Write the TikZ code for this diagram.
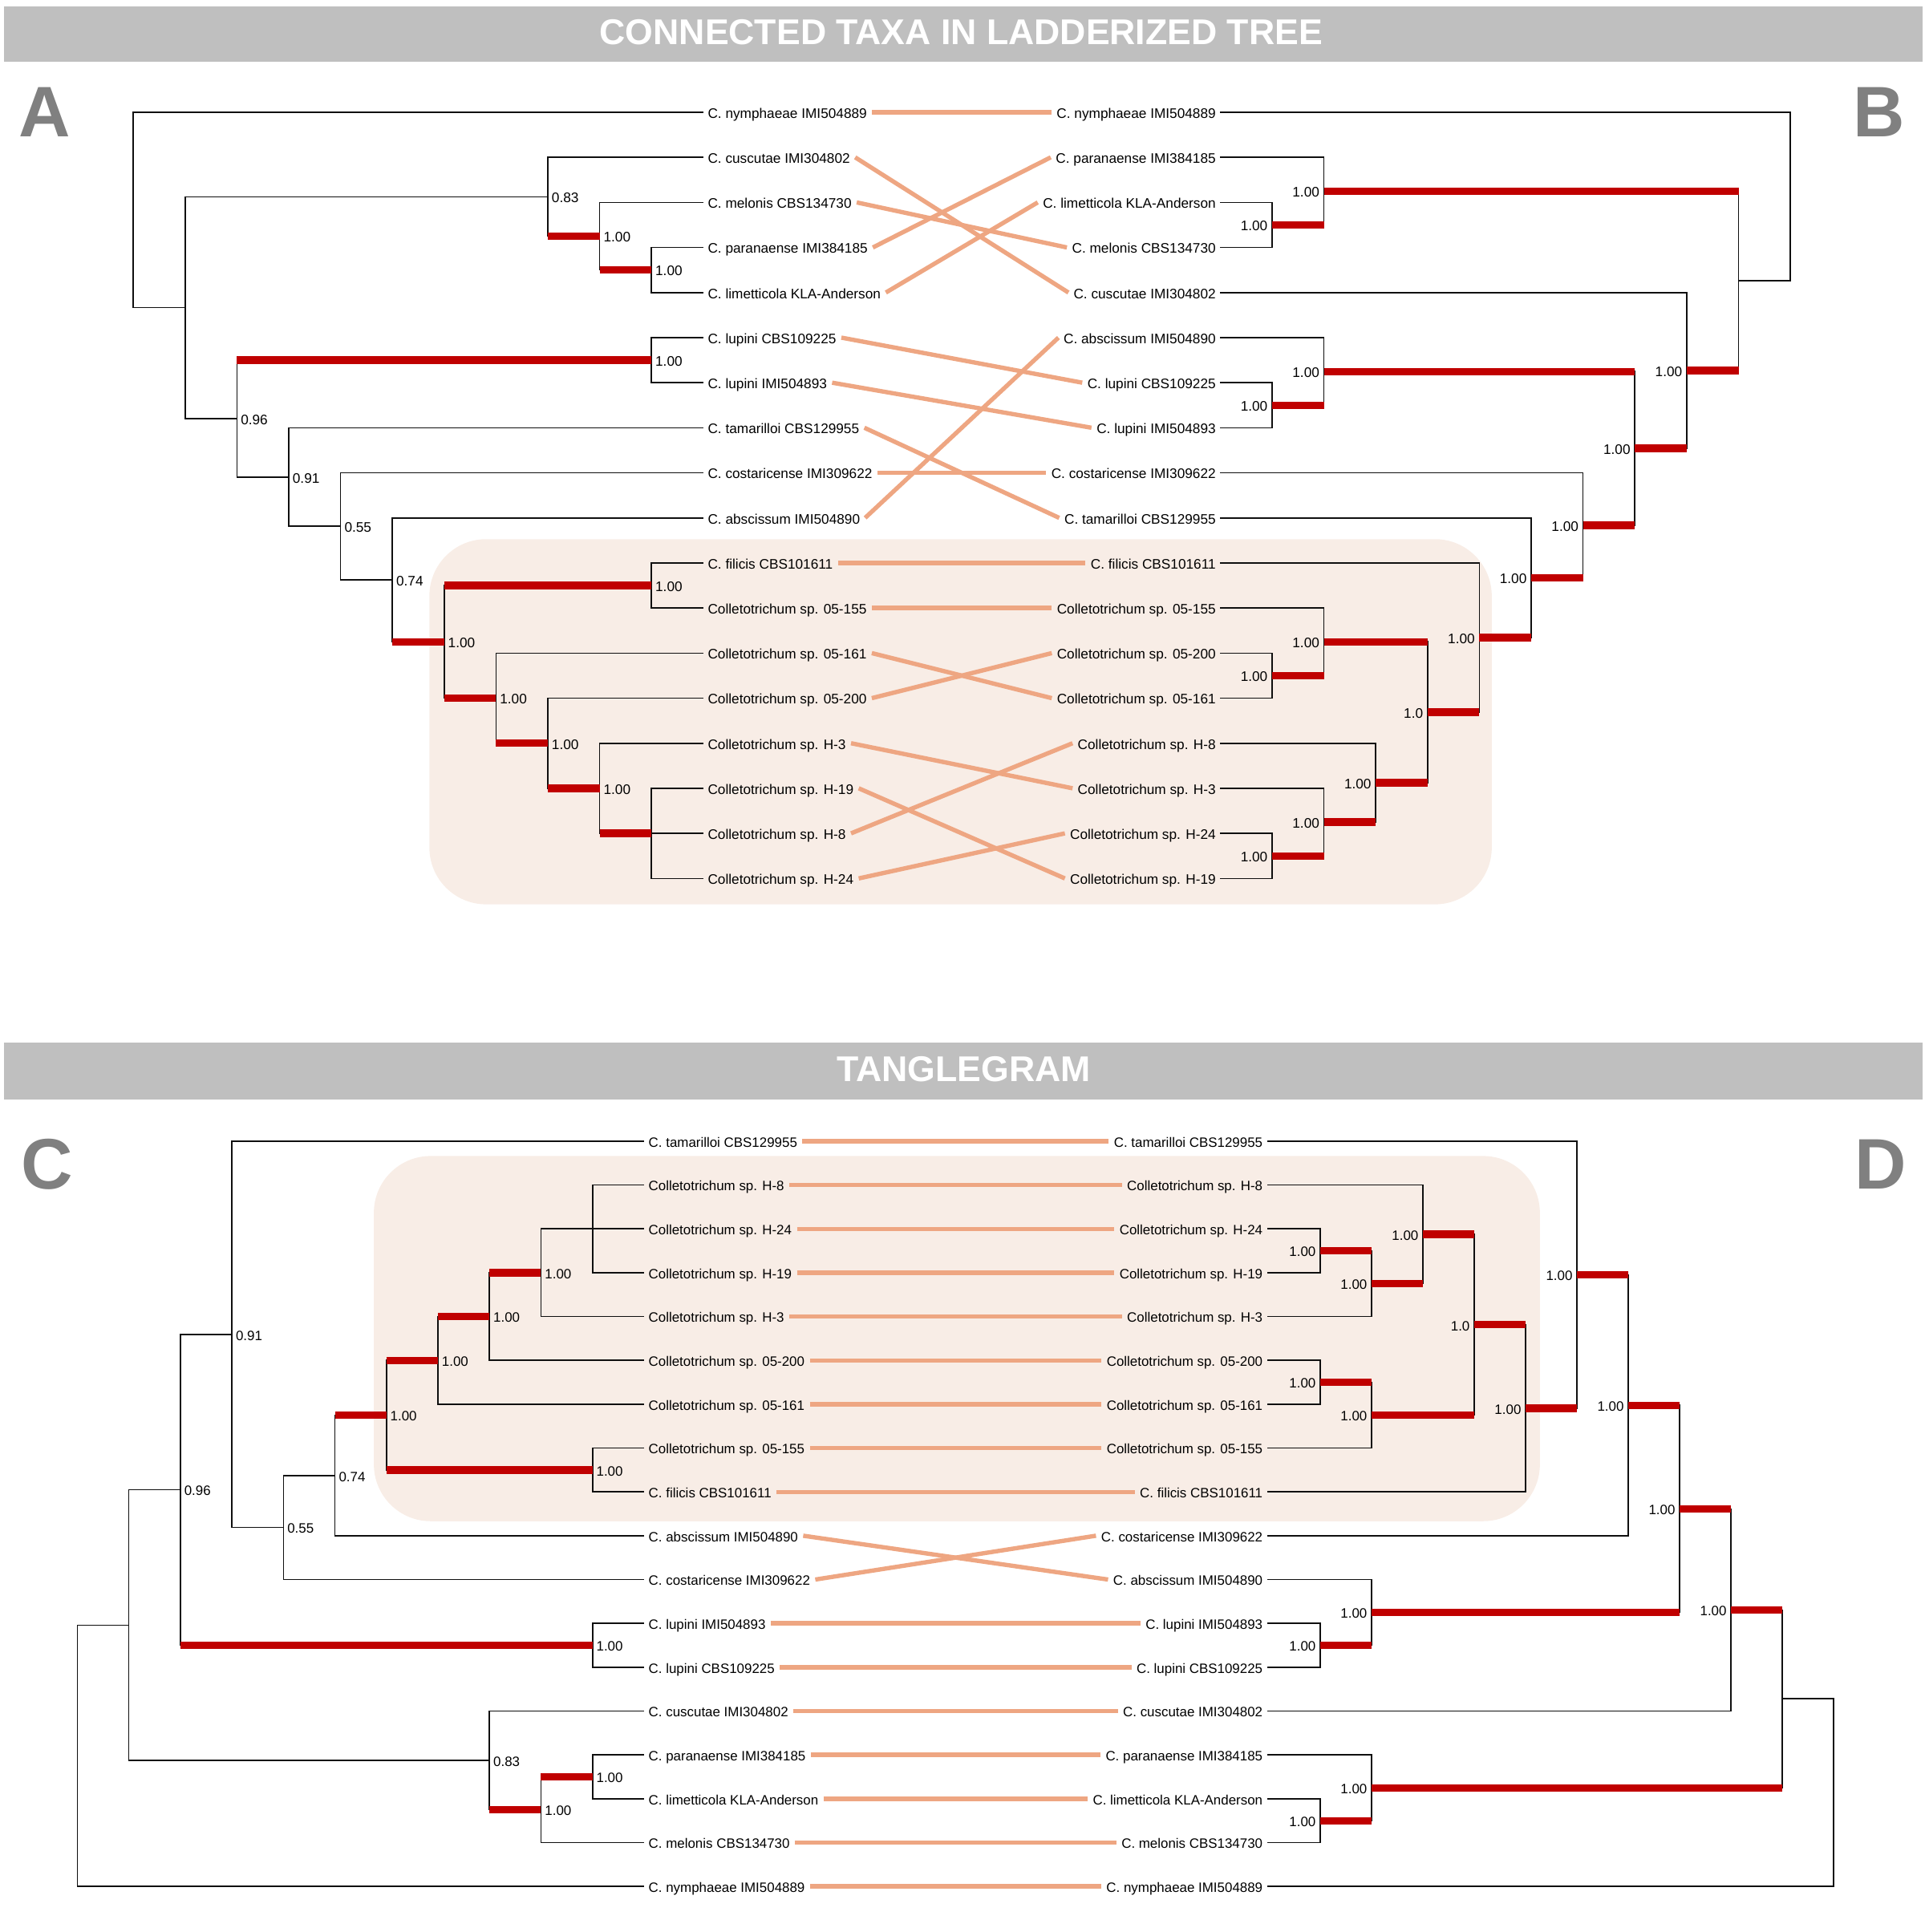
\documentclass[tikz,border=0pt]{standalone}
\usepackage{fontspec}
\setmainfont{Liberation Sans}
\definecolor{treered}{RGB}{192,0,0}
\definecolor{conn}{RGB}{238,166,130}
\definecolor{shadebox}{RGB}{248,237,230}
\definecolor{bandgray}{RGB}{191,191,191}
\definecolor{lettergray}{RGB}{128,128,128}
\definecolor{branch}{RGB}{15,15,15}
\newcommand\topfont{\fontsize{11.2}{13}\selectfont}
\newcommand\botfont{\fontsize{11.0}{13}\selectfont}
\begin{document}
\begin{tikzpicture}[x=1pt,y=-1pt,
  br/.style={draw=branch, line width=1.05pt, line cap=rect},
  rb/.style={draw=treered, line width=6pt},
  cn/.style={draw=conn, line width=3.5pt},
  lab/.style={inner xsep=4pt, inner ysep=0pt, text height=9.5pt, text depth=0pt},
  lfT/.style={lab, anchor=west, font=\topfont},
  rtT/.style={lab, anchor=east, font=\topfont},
  lfB/.style={lab, anchor=west, font=\botfont},
  rtB/.style={lab, anchor=east, font=\botfont},
  supLT/.style={inner sep=0pt, text height=9.5pt, text depth=0pt, anchor=west, font=\topfont},
  supRT/.style={inner sep=0pt, text height=9.5pt, text depth=0pt, anchor=east, font=\topfont},
  supLB/.style={inner sep=0pt, text height=9.5pt, text depth=0pt, anchor=west, font=\botfont},
  supRB/.style={inner sep=0pt, text height=9.5pt, text depth=0pt, anchor=east, font=\botfont},
  title/.style={anchor=base, inner sep=0pt, text=white, font=\fontsize{29}{32}\selectfont\bfseries},
  panel/.style={anchor=base west, inner sep=0pt, text=lettergray, font=\fontsize{58}{60}\selectfont\bfseries}
]
\useasboundingbox (0,0) rectangle (1560,1566);

% ---------- bands and shaded boxes ----------
\fill[bandgray] (3,5) rectangle (1558,50);
\fill[bandgray] (3,845) rectangle (1558,891);
\node[title] (t1) at (779,36.4) {CONNECTED TAXA IN LADDERIZED TREE};
\node[title] (t2) at (781,876.8) {TANGLEGRAM};
\node[panel] (pA) at (15,111) {A};
\node[panel] (pB) at (1502,111) {B};
\node[panel] (pC) at (17,963.5) {C};
\node[panel] (pD) at (1503,963.5) {D};
\fill[shadebox, rounded corners=46pt] (348,437) rectangle (1209,733);
\fill[shadebox, rounded corners=46pt] (303,937) rectangle (1248,1233);

% ---------- panel A labels ----------
\node[lfT] (a1) at (569.5,91.00) {C. nymphaeae IMI504889};
\node[lfT] (a2) at (569.5,127.53) {C. cuscutae IMI304802};
\node[lfT] (a3) at (569.5,164.06) {C. melonis CBS134730};
\node[lfT] (a4) at (569.5,200.59) {C. paranaense IMI384185};
\node[lfT] (a5) at (569.5,237.12) {C. limetticola KLA-Anderson};
\node[lfT] (a6) at (569.5,273.65) {C. lupini CBS109225};
\node[lfT] (a7) at (569.5,310.18) {C. lupini IMI504893};
\node[lfT] (a8) at (569.5,346.71) {C. tamarilloi CBS129955};
\node[lfT] (a9) at (569.5,383.24) {C. costaricense IMI309622};
\node[lfT] (a10) at (569.5,419.77) {C. abscissum IMI504890};
\node[lfT] (a11) at (569.5,456.30) {C. filicis CBS101611};
\node[lfT] (a12) at (569.5,492.83) {Colletotrichum sp. 05-155};
\node[lfT] (a13) at (569.5,529.36) {Colletotrichum sp. 05-161};
\node[lfT] (a14) at (569.5,565.89) {Colletotrichum sp. 05-200};
\node[lfT] (a15) at (569.5,602.42) {Colletotrichum sp. H-3};
\node[lfT] (a16) at (569.5,638.95) {Colletotrichum sp. H-19};
\node[lfT] (a17) at (569.5,675.48) {Colletotrichum sp. H-8};
\node[lfT] (a18) at (569.5,712.01) {Colletotrichum sp. H-24};

% ---------- panel B labels ----------
\node[rtT] (b1) at (989.5,91.00) {C. nymphaeae IMI504889};
\node[rtT] (b2) at (989.5,127.53) {C. paranaense IMI384185};
\node[rtT] (b3) at (989.5,164.06) {C. limetticola KLA-Anderson};
\node[rtT] (b4) at (989.5,200.59) {C. melonis CBS134730};
\node[rtT] (b5) at (989.5,237.12) {C. cuscutae IMI304802};
\node[rtT] (b6) at (989.5,273.65) {C. abscissum IMI504890};
\node[rtT] (b7) at (989.5,310.18) {C. lupini CBS109225};
\node[rtT] (b8) at (989.5,346.71) {C. lupini IMI504893};
\node[rtT] (b9) at (989.5,383.24) {C. costaricense IMI309622};
\node[rtT] (b10) at (989.5,419.77) {C. tamarilloi CBS129955};
\node[rtT] (b11) at (989.5,456.30) {C. filicis CBS101611};
\node[rtT] (b12) at (989.5,492.83) {Colletotrichum sp. 05-155};
\node[rtT] (b13) at (989.5,529.36) {Colletotrichum sp. 05-200};
\node[rtT] (b14) at (989.5,565.89) {Colletotrichum sp. 05-161};
\node[rtT] (b15) at (989.5,602.42) {Colletotrichum sp. H-8};
\node[rtT] (b16) at (989.5,638.95) {Colletotrichum sp. H-3};
\node[rtT] (b17) at (989.5,675.48) {Colletotrichum sp. H-24};
\node[rtT] (b18) at (989.5,712.01) {Colletotrichum sp. H-19};

% ---------- panel C labels ----------
\node[lfB] (c1) at (521.5,925.00) {C. tamarilloi CBS129955};
\node[lfB] (c2) at (521.5,960.53) {Colletotrichum sp. H-8};
\node[lfB] (c3) at (521.5,996.06) {Colletotrichum sp. H-24};
\node[lfB] (c4) at (521.5,1031.59) {Colletotrichum sp. H-19};
\node[lfB] (c5) at (521.5,1067.12) {Colletotrichum sp. H-3};
\node[lfB] (c6) at (521.5,1102.65) {Colletotrichum sp. 05-200};
\node[lfB] (c7) at (521.5,1138.18) {Colletotrichum sp. 05-161};
\node[lfB] (c8) at (521.5,1173.71) {Colletotrichum sp. 05-155};
\node[lfB] (c9) at (521.5,1209.24) {C. filicis CBS101611};
\node[lfB] (c10) at (521.5,1244.77) {C. abscissum IMI504890};
\node[lfB] (c11) at (521.5,1280.30) {C. costaricense IMI309622};
\node[lfB] (c12) at (521.5,1315.83) {C. lupini IMI504893};
\node[lfB] (c13) at (521.5,1351.36) {C. lupini CBS109225};
\node[lfB] (c14) at (521.5,1386.89) {C. cuscutae IMI304802};
\node[lfB] (c15) at (521.5,1422.42) {C. paranaense IMI384185};
\node[lfB] (c16) at (521.5,1457.95) {C. limetticola KLA-Anderson};
\node[lfB] (c17) at (521.5,1493.48) {C. melonis CBS134730};
\node[lfB] (c18) at (521.5,1529.01) {C. nymphaeae IMI504889};

% ---------- panel D labels ----------
\node[rtB] (d1) at (1027.5,925.00) {C. tamarilloi CBS129955};
\node[rtB] (d2) at (1027.5,960.53) {Colletotrichum sp. H-8};
\node[rtB] (d3) at (1027.5,996.06) {Colletotrichum sp. H-24};
\node[rtB] (d4) at (1027.5,1031.59) {Colletotrichum sp. H-19};
\node[rtB] (d5) at (1027.5,1067.12) {Colletotrichum sp. H-3};
\node[rtB] (d6) at (1027.5,1102.65) {Colletotrichum sp. 05-200};
\node[rtB] (d7) at (1027.5,1138.18) {Colletotrichum sp. 05-161};
\node[rtB] (d8) at (1027.5,1173.71) {Colletotrichum sp. 05-155};
\node[rtB] (d9) at (1027.5,1209.24) {C. filicis CBS101611};
\node[rtB] (d10) at (1027.5,1244.77) {C. costaricense IMI309622};
\node[rtB] (d11) at (1027.5,1280.30) {C. abscissum IMI504890};
\node[rtB] (d12) at (1027.5,1315.83) {C. lupini IMI504893};
\node[rtB] (d13) at (1027.5,1351.36) {C. lupini CBS109225};
\node[rtB] (d14) at (1027.5,1386.89) {C. cuscutae IMI304802};
\node[rtB] (d15) at (1027.5,1422.42) {C. paranaense IMI384185};
\node[rtB] (d16) at (1027.5,1457.95) {C. limetticola KLA-Anderson};
\node[rtB] (d17) at (1027.5,1493.48) {C. melonis CBS134730};
\node[rtB] (d18) at (1027.5,1529.01) {C. nymphaeae IMI504889};

% ---------- connectors ----------
\draw[cn] (a1.east) -- (b1.west);
\draw[cn] (a2.east) -- (b5.west);
\draw[cn] (a3.east) -- (b4.west);
\draw[cn] (a4.east) -- (b2.west);
\draw[cn] (a5.east) -- (b3.west);
\draw[cn] (a6.east) -- (b7.west);
\draw[cn] (a7.east) -- (b8.west);
\draw[cn] (a8.east) -- (b10.west);
\draw[cn] (a9.east) -- (b9.west);
\draw[cn] (a10.east) -- (b6.west);
\draw[cn] (a11.east) -- (b11.west);
\draw[cn] (a12.east) -- (b12.west);
\draw[cn] (a13.east) -- (b14.west);
\draw[cn] (a14.east) -- (b13.west);
\draw[cn] (a15.east) -- (b16.west);
\draw[cn] (a16.east) -- (b18.west);
\draw[cn] (a17.east) -- (b15.west);
\draw[cn] (a18.east) -- (b17.west);
\foreach \i in {1,...,9,12,13,14,15,16,17,18} {\draw[cn] (c\i.east) -- (d\i.west);}
\draw[cn] (c10.east) -- (d11.west);
\draw[cn] (c11.east) -- (d10.west);

% ---------- tree A ----------
\draw[br] (108,91) -- (a1.west);
\draw[br] (444,127.53) -- (a2.west);
\draw[br] (486,164.06) -- (a3.west);
\draw[br] (528,200.59) -- (a4.west);
\draw[br] (528,237.12) -- (a5.west);
\draw[br] (528,273.65) -- (a6.west);
\draw[br] (528,310.18) -- (a7.west);
\draw[br] (234,346.71) -- (a8.west);
\draw[br] (276,383.24) -- (a9.west);
\draw[br] (318,419.77) -- (a10.west);
\draw[br] (528,456.30) -- (a11.west);
\draw[br] (528,492.83) -- (a12.west);
\draw[br] (402,529.36) -- (a13.west);
\draw[br] (444,565.89) -- (a14.west);
\draw[br] (486,602.42) -- (a15.west);
\draw[br] (528,638.95) -- (a16.west);
\draw[br] (528,675.48) -- (a17.west);
\draw[br] (528,712.01) -- (a18.west);
\draw[br] (108,91) -- (108,249.4);
\draw[br] (150,159.5) -- (150,339.3);
\draw[br] (444,127.53) -- (444,191.46);
\draw[br] (486,164.06) -- (486,218.86);
\draw[br] (528,200.59) -- (528,237.12);
\draw[br] (192,291.92) -- (192,386.67);
\draw[br] (528,273.65) -- (528,310.18);
\draw[br] (234,346.71) -- (234,426.62);
\draw[br] (276,383.24) -- (276,470.0);
\draw[br] (318,419.77) -- (318,520.23);
\draw[br] (360,474.57) -- (360,565.89);
\draw[br] (528,456.30) -- (528,492.83);
\draw[br] (402,529.36) -- (402,602.42);
\draw[br] (444,565.89) -- (444,638.95);
\draw[br] (486,602.42) -- (486,675.48);
\draw[br] (528,638.95) -- (528,712.01);
\draw[br] (108,249.4) -- (150,249.4);
\draw[br] (150,159.5) -- (444,159.5);
\draw[br] (150,339.3) -- (192,339.3);
\draw[br] (192,386.67) -- (234,386.67);
\draw[br] (234,426.62) -- (276,426.62);
\draw[br] (276,470.0) -- (318,470.0);
\draw[rb] (444,191.46) -- (486,191.46);
\draw[rb] (486,218.86) -- (528,218.86);
\draw[rb] (192,291.92) -- (528,291.92);
\draw[rb] (318,520.23) -- (360,520.23);
\draw[rb] (360,474.57) -- (528,474.57);
\draw[rb] (360,565.89) -- (402,565.89);
\draw[rb] (402,602.42) -- (444,602.42);
\draw[rb] (444,638.95) -- (486,638.95);
\draw[rb] (486,675.48) -- (528,675.48);
\node[supLT] (sa1) at (447,159.5) {0.83};
\node[supLT] (sa2) at (489,191.46) {1.00};
\node[supLT] (sa3) at (531,218.86) {1.00};
\node[supLT] (sa4) at (531,291.92) {1.00};
\node[supLT] (sa5) at (195,339.3) {0.96};
\node[supLT] (sa6) at (237,386.67) {0.91};
\node[supLT] (sa7) at (279,426.62) {0.55};
\node[supLT] (sa8) at (321,470.0) {0.74};
\node[supLT] (sa9) at (363,520.23) {1.00};
\node[supLT] (sa10) at (531,474.57) {1.00};
\node[supLT] (sa11) at (405,565.89) {1.00};
\node[supLT] (sa12) at (447,602.42) {1.00};
\node[supLT] (sa13) at (489,638.95) {1.00};

% ---------- tree B ----------
\draw[br] (b1.east) -- (1451,91);
\draw[br] (b2.east) -- (1073,127.53);
\draw[br] (b3.east) -- (1031,164.06);
\draw[br] (b4.east) -- (1031,200.59);
\draw[br] (b5.east) -- (1367,237.12);
\draw[br] (b6.east) -- (1073,273.65);
\draw[br] (b7.east) -- (1031,310.18);
\draw[br] (b8.east) -- (1031,346.71);
\draw[br] (b9.east) -- (1283,383.24);
\draw[br] (b10.east) -- (1241,419.77);
\draw[br] (b11.east) -- (1199,456.30);
\draw[br] (b12.east) -- (1073,492.83);
\draw[br] (b13.east) -- (1031,529.36);
\draw[br] (b14.east) -- (1031,565.89);
\draw[br] (b15.east) -- (1115,602.42);
\draw[br] (b16.east) -- (1073,638.95);
\draw[br] (b17.east) -- (1031,675.48);
\draw[br] (b18.east) -- (1031,712.01);
\draw[br] (1451,91) -- (1451,227.6);
\draw[br] (1409,154.93) -- (1409,300.27);
\draw[br] (1073,127.53) -- (1073,182.33);
\draw[br] (1031,164.06) -- (1031,200.59);
\draw[br] (1367,237.12) -- (1367,363.41);
\draw[br] (1325,301.05) -- (1325,425.77);
\draw[br] (1073,273.65) -- (1073,328.45);
\draw[br] (1031,310.18) -- (1031,346.71);
\draw[br] (1283,383.24) -- (1283,468.29);
\draw[br] (1241,419.77) -- (1241,516.81);
\draw[br] (1199,456.30) -- (1199,577.31);
\draw[br] (1157,520.23) -- (1157,634.39);
\draw[br] (1073,492.83) -- (1073,547.63);
\draw[br] (1031,529.36) -- (1031,565.89);
\draw[br] (1115,602.42) -- (1115,666.35);
\draw[br] (1073,638.95) -- (1073,693.75);
\draw[br] (1031,675.48) -- (1031,712.01);
\draw[br] (1409,227.6) -- (1451,227.6);
\draw[rb] (1073,154.93) -- (1409,154.93);
\draw[rb] (1031,182.33) -- (1073,182.33);
\draw[rb] (1367,300.27) -- (1409,300.27);
\draw[rb] (1325,363.41) -- (1367,363.41);
\draw[rb] (1073,301.05) -- (1325,301.05);
\draw[rb] (1031,328.45) -- (1073,328.45);
\draw[rb] (1283,425.77) -- (1325,425.77);
\draw[rb] (1241,468.29) -- (1283,468.29);
\draw[rb] (1199,516.81) -- (1241,516.81);
\draw[rb] (1157,577.31) -- (1199,577.31);
\draw[rb] (1073,520.23) -- (1157,520.23);
\draw[rb] (1031,547.63) -- (1073,547.63);
\draw[rb] (1115,634.39) -- (1157,634.39);
\draw[rb] (1073,666.35) -- (1115,666.35);
\draw[rb] (1031,693.75) -- (1073,693.75);
\node[supRT] (sb1) at (1069.5,154.93) {1.00};
\node[supRT] (sb2) at (1027.5,182.33) {1.00};
\node[supRT] (sb3) at (1363.5,300.27) {1.00};
\node[supRT] (sb4) at (1321.5,363.41) {1.00};
\node[supRT] (sb5) at (1069.5,301.05) {1.00};
\node[supRT] (sb6) at (1027.5,328.45) {1.00};
\node[supRT] (sb7) at (1279.5,425.77) {1.00};
\node[supRT] (sb8) at (1237.5,468.29) {1.00};
\node[supRT] (sb9) at (1195.5,516.81) {1.00};
\node[supRT] (sb10) at (1153.5,577.31) {1.0};
\node[supRT] (sb11) at (1069.5,520.23) {1.00};
\node[supRT] (sb12) at (1027.5,547.63) {1.00};
\node[supRT] (sb13) at (1111.5,634.39) {1.00};
\node[supRT] (sb14) at (1069.5,666.35) {1.00};
\node[supRT] (sb15) at (1027.5,693.75) {1.00};

% ---------- tree C ----------
\draw[br] (187.95,925.00) -- (c1.west);
\draw[br] (480.2,960.53) -- (c2.west);
\draw[br] (438.45,996.06) -- (c3.west);
\draw[br] (480.2,1031.59) -- (c4.west);
\draw[br] (438.45,1067.12) -- (c5.west);
\draw[br] (396.7,1102.65) -- (c6.west);
\draw[br] (354.95,1138.18) -- (c7.west);
\draw[br] (480.2,1173.71) -- (c8.west);
\draw[br] (480.2,1209.24) -- (c9.west);
\draw[br] (271.45,1244.77) -- (c10.west);
\draw[br] (229.7,1280.30) -- (c11.west);
\draw[br] (480.2,1315.83) -- (c12.west);
\draw[br] (480.2,1351.36) -- (c13.west);
\draw[br] (396.7,1386.89) -- (c14.west);
\draw[br] (480.2,1422.42) -- (c15.west);
\draw[br] (480.2,1457.95) -- (c16.west);
\draw[br] (438.45,1493.48) -- (c17.west);
\draw[br] (62.7,1529.01) -- (c18.west);
\draw[br] (480.2,960.53) -- (480.2,1031.59);
\draw[br] (438.45,996.06) -- (438.45,1067.12);
\draw[br] (396.7,1031.59) -- (396.7,1102.65);
\draw[br] (354.95,1067.12) -- (354.95,1138.18);
\draw[br] (480.2,1173.71) -- (480.2,1209.24);
\draw[br] (313.2,1102.65) -- (313.2,1191.48);
\draw[br] (271.45,1147.07) -- (271.45,1244.77);
\draw[br] (229.7,1195.92) -- (229.7,1280.30);
\draw[br] (187.95,925.00) -- (187.95,1238.11);
\draw[br] (480.2,1315.83) -- (480.2,1351.36);
\draw[br] (146.2,1081.56) -- (146.2,1333.6);
\draw[br] (480.2,1422.42) -- (480.2,1457.95);
\draw[br] (438.45,1440.19) -- (438.45,1493.48);
\draw[br] (396.7,1386.89) -- (396.7,1466.84);
\draw[br] (104.45,1207.58) -- (104.45,1426.87);
\draw[br] (62.7,1317.22) -- (62.7,1529.01);
\draw[br] (62.7,1317.22) -- (104.45,1317.22);
\draw[br] (104.45,1207.58) -- (146.2,1207.58);
\draw[br] (146.2,1081.56) -- (187.95,1081.56);
\draw[br] (187.95,1238.11) -- (229.7,1238.11);
\draw[br] (229.7,1195.92) -- (271.45,1195.92);
\draw[br] (104.45,1426.87) -- (396.7,1426.87);
\draw[rb] (271.45,1147.07) -- (313.2,1147.07);
\draw[rb] (313.2,1102.65) -- (354.95,1102.65);
\draw[rb] (354.95,1067.12) -- (396.7,1067.12);
\draw[rb] (396.7,1031.59) -- (438.45,1031.59);
\draw[rb] (313.2,1191.48) -- (480.2,1191.48);
\draw[rb] (146.2,1333.6) -- (480.2,1333.6);
\draw[rb] (396.7,1466.84) -- (438.45,1466.84);
\draw[rb] (438.45,1440.19) -- (480.2,1440.19);
\node[supLB] (sc1) at (190.95,1081.56) {0.91};
\node[supLB] (sc2) at (149.2,1207.58) {0.96};
\node[supLB] (sc3) at (232.7,1238.11) {0.55};
\node[supLB] (sc4) at (274.45,1195.92) {0.74};
\node[supLB] (sc5) at (316.2,1147.07) {1.00};
\node[supLB] (sc6) at (357.95,1102.65) {1.00};
\node[supLB] (sc7) at (399.7,1067.12) {1.00};
\node[supLB] (sc8) at (441.45,1031.59) {1.00};
\node[supLB] (sc9) at (483.2,1191.48) {1.00};
\node[supLB] (sc10) at (483.2,1333.6) {1.00};
\node[supLB] (sc11) at (399.7,1426.87) {0.83};
\node[supLB] (sc12) at (441.45,1466.84) {1.00};
\node[supLB] (sc13) at (483.2,1440.19) {1.00};

% ---------- tree D ----------
\draw[br] (d1.east) -- (1278.1,925.00);
\draw[br] (d2.east) -- (1153.24,960.53);
\draw[br] (d3.east) -- (1070,996.06);
\draw[br] (d4.east) -- (1070,1031.59);
\draw[br] (d5.east) -- (1111.62,1067.12);
\draw[br] (d6.east) -- (1070,1102.65);
\draw[br] (d7.east) -- (1070,1138.18);
\draw[br] (d8.east) -- (1111.62,1173.71);
\draw[br] (d9.east) -- (1236.48,1209.24);
\draw[br] (d10.east) -- (1319.72,1244.77);
\draw[br] (d11.east) -- (1111.62,1280.30);
\draw[br] (d12.east) -- (1070,1315.83);
\draw[br] (d13.east) -- (1070,1351.36);
\draw[br] (d14.east) -- (1402.96,1386.89);
\draw[br] (d15.east) -- (1111.62,1422.42);
\draw[br] (d16.east) -- (1070,1457.95);
\draw[br] (d17.east) -- (1070,1493.48);
\draw[br] (d18.east) -- (1486.2,1529.01);
\draw[br] (1070,996.06) -- (1070,1031.59);
\draw[br] (1111.62,1013.83) -- (1111.62,1067.12);
\draw[br] (1153.24,960.53) -- (1153.24,1040.47);
\draw[br] (1070,1102.65) -- (1070,1138.18);
\draw[br] (1111.62,1120.42) -- (1111.62,1173.71);
\draw[br] (1194.86,1000.5) -- (1194.86,1147.06);
\draw[br] (1236.48,1073.78) -- (1236.48,1209.24);
\draw[br] (1278.1,925.00) -- (1278.1,1141.51);
\draw[br] (1319.72,1033.26) -- (1319.72,1244.77);
\draw[br] (1070,1315.83) -- (1070,1351.36);
\draw[br] (1111.62,1280.30) -- (1111.62,1333.6);
\draw[br] (1361.34,1139.01) -- (1361.34,1306.95);
\draw[br] (1402.96,1222.98) -- (1402.96,1386.89);
\draw[br] (1070,1457.95) -- (1070,1493.48);
\draw[br] (1111.62,1422.42) -- (1111.62,1475.72);
\draw[br] (1444.58,1304.94) -- (1444.58,1449.07);
\draw[br] (1486.2,1377.0) -- (1486.2,1529.01);
\draw[br] (1444.58,1377.0) -- (1486.2,1377.0);
\draw[rb] (1278.1,1033.26) -- (1319.72,1033.26);
\draw[rb] (1236.48,1141.51) -- (1278.1,1141.51);
\draw[rb] (1194.86,1073.78) -- (1236.48,1073.78);
\draw[rb] (1153.24,1000.5) -- (1194.86,1000.5);
\draw[rb] (1111.62,1040.47) -- (1153.24,1040.47);
\draw[rb] (1070,1013.83) -- (1111.62,1013.83);
\draw[rb] (1111.62,1147.06) -- (1194.86,1147.06);
\draw[rb] (1070,1120.42) -- (1111.62,1120.42);
\draw[rb] (1319.72,1139.01) -- (1361.34,1139.01);
\draw[rb] (1361.34,1222.98) -- (1402.96,1222.98);
\draw[rb] (1111.62,1306.95) -- (1361.34,1306.95);
\draw[rb] (1070,1333.6) -- (1111.62,1333.6);
\draw[rb] (1402.96,1304.94) -- (1444.58,1304.94);
\draw[rb] (1111.62,1449.07) -- (1444.58,1449.07);
\draw[rb] (1070,1475.72) -- (1111.62,1475.72);
\node[supRB] (sd1) at (1066.5,1013.83) {1.00};
\node[supRB] (sd2) at (1108.12,1040.47) {1.00};
\node[supRB] (sd3) at (1149.74,1000.5) {1.00};
\node[supRB] (sd4) at (1191.36,1073.78) {1.0};
\node[supRB] (sd5) at (1066.5,1120.42) {1.00};
\node[supRB] (sd6) at (1108.12,1147.06) {1.00};
\node[supRB] (sd7) at (1232.98,1141.51) {1.00};
\node[supRB] (sd8) at (1274.6,1033.26) {1.00};
\node[supRB] (sd9) at (1316.22,1139.01) {1.00};
\node[supRB] (sd10) at (1357.84,1222.98) {1.00};
\node[supRB] (sd11) at (1399.46,1304.94) {1.00};
\node[supRB] (sd12) at (1108.12,1306.95) {1.00};
\node[supRB] (sd13) at (1066.5,1333.6) {1.00};
\node[supRB] (sd14) at (1108.12,1449.07) {1.00};
\node[supRB] (sd15) at (1066.5,1475.72) {1.00};
\end{tikzpicture}
\end{document}
